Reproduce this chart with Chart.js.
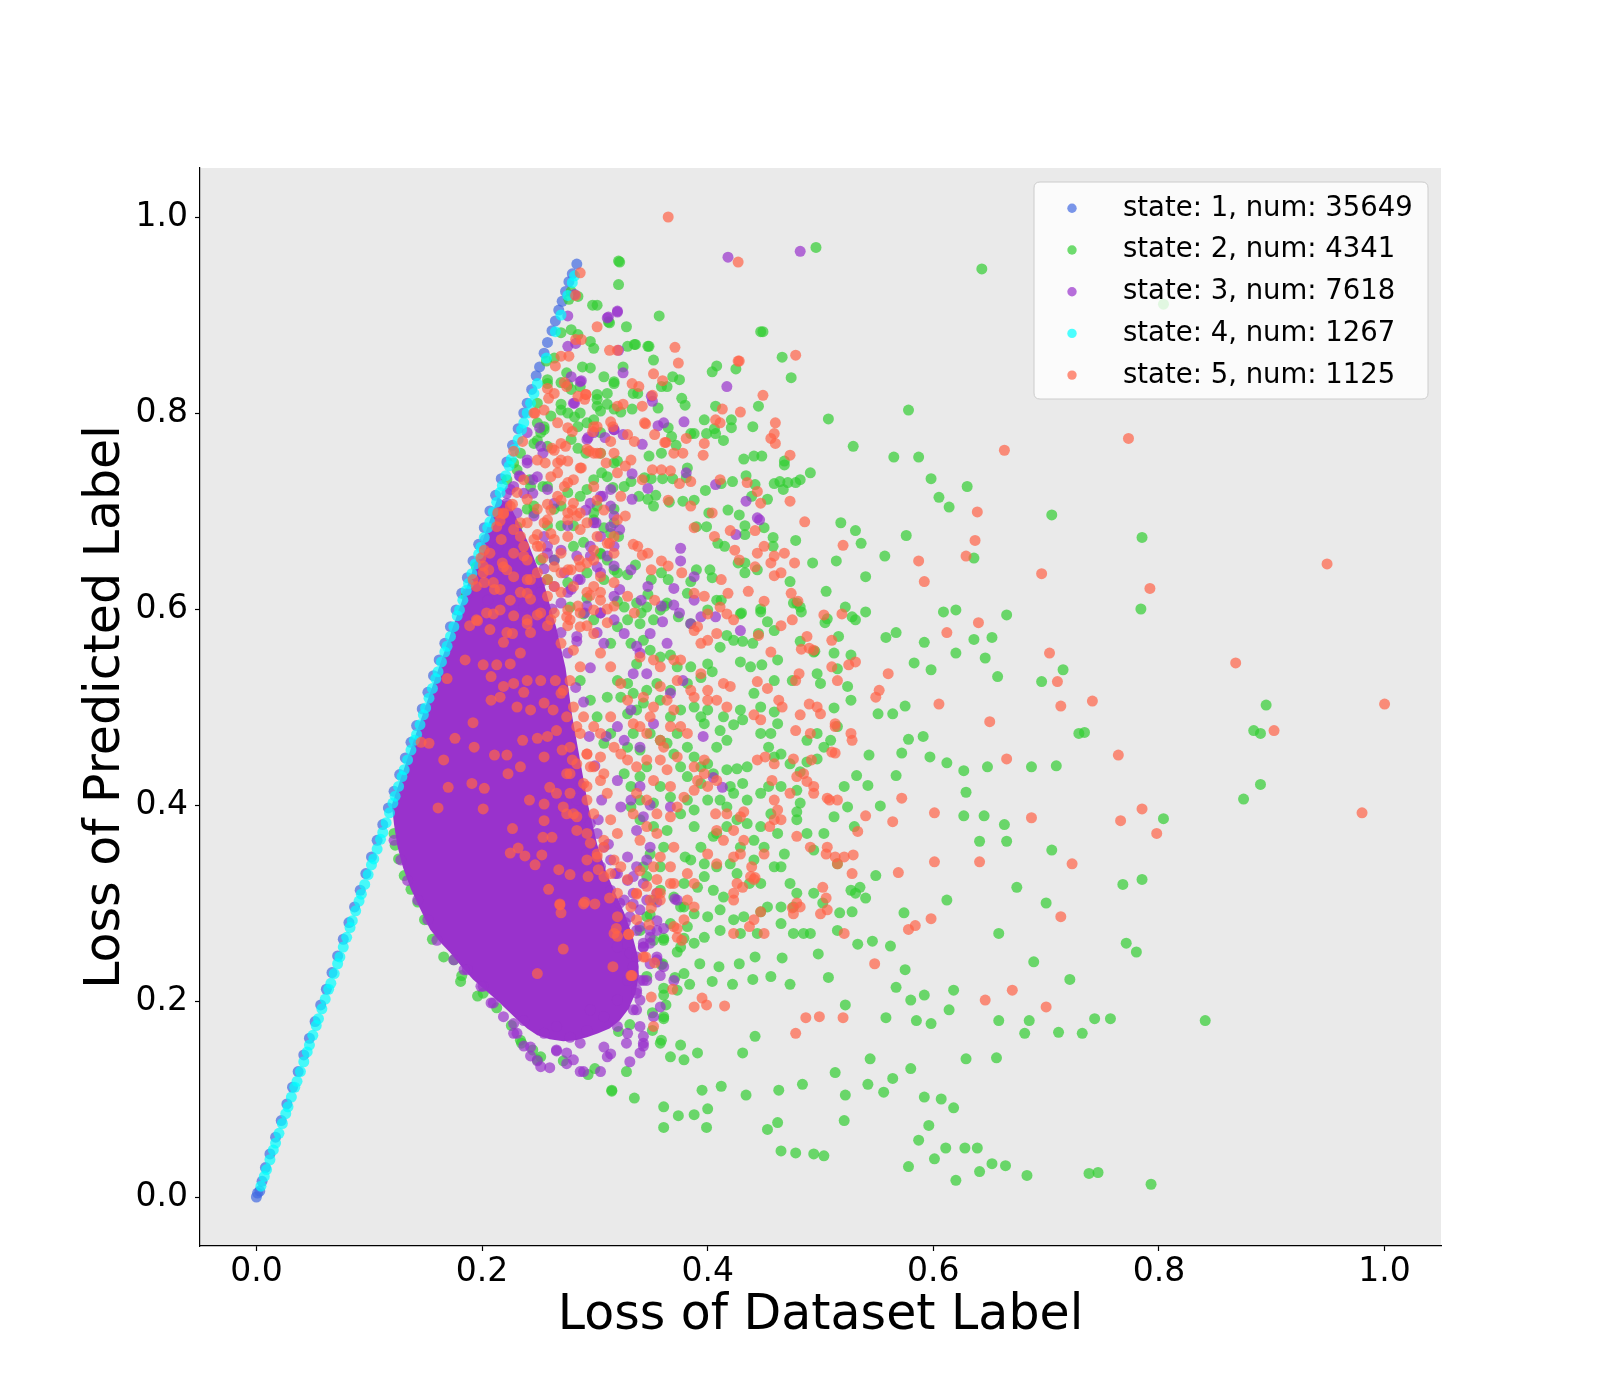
<!DOCTYPE html>
<html><head><meta charset="utf-8">
<script src="https://cdn.jsdelivr.net/npm/chart.js@4.4.1/dist/chart.umd.min.js"></script>
<style>html,body{margin:0;padding:0;background:#fff}canvas{display:block}</style>
</head><body>
<canvas id="c" width="1600" height="1400"></canvas>
<script>
const xTicks=[0,0.2,0.4,0.6,0.8,1.0];
const yTicks=[0,0.2,0.4,0.6,0.8,1.0];
const seriesLabels=['state: 1, num: 35649','state: 2, num: 4341','state: 3, num: 7618','state: 4, num: 1267','state: 5, num: 1125'];

const state1=[[0,0],[.001,.004],[.003,.006],[.005,.016],[.008,.030],[.012,.044],[.017,.061],[.022,.078],[.027,.095],[.032,.112],[.037,.128],[.042,.145],[.047,.162],[.052,.179],[.057,.196],[.062,.212],[.067,.229],[.072,.246],[.077,.263],[.082,.280],[.087,.296],[.092,.313],[.097,.330],[.102,.347],[.107,.364],[.112,.380],[.117,.397],[.122,.414],[.127,.431],[.132,.448],[.137,.464],[.142,.481],[.147,.498],[.152,.515],[.157,.532],[.162,.548],[.167,.565],[.172,.582],[.177,.599],[.182,.616],[.187,.632],[.192,.649],[.197,.666],[.202,.683],[.207,.700],[.212,.716],[.217,.733],[.222,.750],[.227,.767],[.232,.784],[.237,.800],[.240,.810],[.244,.824],[.248,.838],[.251,.847],[.255,.861],[.258,.872],[.262,.884],[.265,.894],[.268,.905],[.271,.914],[.274,.924],[.277,.934],[.280,.942],[.284,.952]];

const state4=[[.004,.011],[.007,.021],[.009,.028],[.012,.038],[.015,.048],[.017,.055],[.020,.065],[.023,.075],[.026,.085],[.028,.092],[.031,.102],[.034,.112],[.036,.118],[.039,.128],[.042,.138],[.045,.148],[.047,.155],[.050,.165],[.053,.175],[.055,.182],[.058,.192],[.061,.202],[.064,.212],[.066,.218],[.069,.228],[.072,.238],[.074,.245],[.077,.255],[.080,.265],[.083,.275],[.085,.282],[.088,.292],[.091,.302],[.093,.309],[.096,.319],[.099,.329],[.102,.339],[.104,.345],[.107,.355],[.110,.365],[.112,.372],[.115,.382],[.118,.392],[.121,.402],[.123,.409],[.126,.419],[.129,.429],[.131,.436],[.134,.446],[.137,.456],[.140,.466],[.142,.472],[.145,.482],[.148,.492],[.150,.499],[.153,.509],[.156,.519],[.159,.529],[.161,.536],[.164,.546],[.167,.556],[.169,.562],[.172,.572],[.175,.582],[.178,.593],[.180,.599],[.183,.609],[.186,.619],[.188,.626],[.191,.636],[.194,.646],[.197,.656],[.199,.663],[.202,.673],[.205,.683],[.207,.689],[.210,.699],[.213,.709],[.216,.719],[.218,.726],[.221,.736],[.224,.746],[.226,.753],[.229,.763],[.232,.773],[.235,.783],[.237,.790],[.240,.800],[.243,.810],[.246,.820],[.249,.830],[.257,.856],[.265,.883],[.270,.900],[.276,.920],[.280,.933],[.282,.940]];

const state2=[[.496,.969],[.643,.947],[.321,.955],[.804,.911],[.447,.883],[.578,.803],[.529,.766],[.507,.794],[.587,.755],[.565,.755],[.598,.733],[.605,.714],[.630,.725],[.614,.704],[.636,.652],[.576,.675],[.557,.654],[.705,.696],[.785,.673],[.784,.600],[.665,.594],[.620,.599],[.646,.550],[.652,.571],[.657,.531],[.715,.538],[.729,.473],[.709,.440],[.696,.526],[.687,.439],[.895,.502],[.890,.473],[.884,.476],[.890,.421],[.875,.406],[.804,.386],[.785,.324],[.768,.319],[.771,.259],[.780,.250],[.743,.182],[.757,.182],[.841,.180],[.793,.013],[.738,.024],[.746,.025],[.683,.022],[.664,.032],[.652,.034],[.641,.026],[.620,.017],[.628,.050],[.639,.050],[.611,.050],[.601,.039],[.587,.058],[.578,.031],[.618,.091],[.607,.100],[.592,.102],[.596,.073],[.580,.131],[.556,.107],[.564,.121],[.542,.115],[.544,.141],[.513,.127],[.522,.104],[.521,.078],[.503,.042],[.494,.044],[.478,.045],[.465,.047],[.453,.069],[.462,.076],[.484,.115],[.463,.109],[.434,.104],[.412,.113],[.395,.109],[.399,.071],[.400,.090],[.388,.084],[.374,.083],[.361,.092],[.361,.071],[.335,.101],[.315,.108],[.367,.143],[.391,.147],[.431,.147],[.442,.164],[.711,.168],[.658,.180],[.685,.180],[.656,.142],[.629,.141],[.614,.191],[.618,.211],[.598,.177],[.585,.180],[.558,.183],[.674,.316],[.700,.300],[.705,.354],[.721,.222],[.658,.269],[.681,.167],[.641,.363],[.665,.363],[.663,.380],[.645,.389],[.627,.389],[.629,.413],[.627,.435],[.648,.439],[.612,.443],[.597,.449],[.591,.470],[.578,.467],[.572,.453],[.567,.430],[.553,.399],[.542,.420],[.532,.430],[.543,.451],[.551,.493],[.564,.493],[.575,.501],[.558,.571],[.567,.576],[.592,.566],[.598,.538],[.583,.545],[.609,.597],[.620,.555],[.636,.569],[.540,.597],[.540,.633],[.536,.667],[.531,.680],[.518,.688],[.514,.649],[.505,.618],[.504,.586],[.495,.557],[.483,.597],[.473,.628],[.493,.647],[.478,.670],[.467,.722],[.482,.732],[.491,.739],[.442,.727],[.433,.685],[.458,.673],[.535,.316],[.549,.328],[.540,.305],[.517,.290],[.533,.258],[.546,.261],[.562,.256],[.574,.290],[.575,.232],[.580,.201],[.567,.214],[.592,.206],[.522,.196],[.507,.224],[.498,.248],[.485,.269],[.466,.244],[.473,.217],[.456,.225],[.442,.245],[.440,.222],[.428,.238],[.422,.217],[.410,.235],[.404,.220],[.393,.238],[.384,.217],[.371,.224],[.361,.206],[.351,.188],[.351,.170],[.734,.474],[.689,.240],[.612,.303],[.732,.167],
[.321,.931],[.298,.910],[.302,.910],[.357,.899],[.328,.888],[.449,.883],[.313,.892],[.285,.880],[.296,.873],[.299,.866],[.335,.870],[.329,.868],[.347,.868],[.466,.857],[.474,.836],[.352,.854],[.289,.847],[.296,.846],[.308,.837],[.317,.832],[.325,.847],[.375,.834],[.369,.837],[.408,.848],[.404,.842],[.425,.845],[.359,.827],[.364,.827],[.338,.820],[.334,.820],[.377,.815],[.380,.808],[.407,.807],[.421,.793],[.421,.785],[.445,.807],[.440,.786],[.397,.793],[.388,.779],[.385,.779],[.399,.779],[.407,.779],[.406,.784],[.414,.772],[.432,.753],[.441,.756],[.448,.756],[.468,.751],[.468,.747],[.459,.728],[.471,.729],[.478,.729],[.434,.736],[.422,.730],[.412,.728],[.398,.721],[.382,.744],[.381,.734],[.369,.733],[.360,.733],[.350,.733],[.354,.716],[.352,.705],[.332,.730],[.344,.734],[.348,.756],[.359,.759],[.368,.776],[.372,.767],[.365,.785],[.356,.805],[.333,.804],[.323,.801],[.311,.820],[.302,.814],[.305,.802],[.299,.793],[.285,.786],[.282,.796],[.285,.764],[.292,.759],[.305,.759],[.320,.751],[.306,.739],[.316,.724],[.326,.725],[.339,.715],[.347,.712],[.366,.709],[.378,.710],[.388,.711],[.401,.698],[.390,.684],[.399,.684],[.418,.701],[.428,.696],[.439,.715],[.453,.712],[.464,.730],[.450,.683],[.458,.664],[.433,.676],[.409,.667],[.415,.664],[.427,.647],[.433,.647],[.444,.640],[.433,.637],[.402,.640],[.404,.632],[.390,.640],[.385,.628],[.382,.616],[.365,.630],[.359,.637],[.350,.630],[.347,.615],[.336,.645],[.329,.635],[.321,.674],[.314,.677],[.308,.683],[.299,.698],[.305,.656],[.320,.637],[.308,.630],[.293,.611],[.320,.608],[.341,.596],[.362,.603],[.412,.609],[.430,.596],[.447,.600],[.479,.606],[.400,.599],[.261,.797],[.255,.786],[.270,.803],[.249,.772],[.258,.766],[.279,.773],[.242,.732],[.254,.725],[.246,.705],[.231,.684],[.224,.667],[.231,.640],[.217,.637],[.279,.824],[.270,.831],[.275,.841],[.264,.856],[.257,.853],[.258,.834],[.270,.882],[.279,.885],[.277,.916],[.285,.919],[.279,.924],[.322,.954],[.312,.893],[.348,.868],[.336,.870],
[.122,.371],[.123,.359],[.126,.345],[.131,.328],[.137,.314],[.143,.301],[.149,.283],[.156,.263],[.166,.245],[.181,.220],[.196,.205],[.213,.193],[.226,.175],[.235,.157],[.245,.150],[.252,.143],[.358,.157],[.361,.182],[.361,.213],[.360,.238],
[.175,.242],[.182,.226],[.201,.208],[.234,.160],[.249,.140],[.272,.139],[.294,.125],[.300,.131],[.315,.109],[.328,.128],[.321,.169],[.331,.176],[.359,.160],[.376,.155],[.379,.140],[.361,.184],[.363,.196],[.346,.225],[.373,.211],[.379,.228],[.359,.237],[.361,.264],[.373,.250],[.379,.264],[.379,.296],[.349,.288],
[.258,.830],[.276,.829],[.287,.827],[.317,.830],[.302,.819],[.311,.809],[.270,.809],[.249,.810],[.249,.790],[.255,.783],[.246,.769],[.252,.780],[.287,.800],[.276,.800],[.293,.790],[.302,.807],[.317,.804],[.305,.780],[.317,.749],[.311,.735],[.299,.732],[.293,.722],[.276,.719],[.270,.705],[.264,.702],[.246,.698],[.240,.702],[.258,.685],[.270,.685],[.281,.685],[.290,.668],[.311,.650],[.305,.657],[.317,.640],[.293,.637],[.276,.627],[.258,.630],[.246,.623],[.225,.603],[.234,.599],[.207,.674],[.228,.749],[.234,.759],[.231,.742],[.222,.732],[.243,.725],[.258,.725],[.287,.715],[.302,.705],[.317,.702],[.317,.688],[.299,.691],[.281,.664],[.204,.650],[.195,.643],[.183,.596],[.186,.613],[.198,.613],[.264,.650],[.252,.650],
[.374,.592],[.385,.585],[.408,.609],[.429,.595],[.447,.597],[.453,.587],[.445,.575],[.459,.578],[.476,.606],[.482,.602],[.506,.590],[.522,.602],[.528,.592],[.531,.589],[.482,.567],[.494,.556],[.516,.572],[.512,.555],[.527,.553],[.431,.567],[.440,.565],[.423,.568],[.417,.573],[.411,.561],[.400,.544],[.404,.536],[.429,.546],[.438,.541],[.448,.543],[.462,.548],[.459,.527],[.475,.527],[.497,.534],[.500,.524],[.515,.539],[.524,.521],[.527,.507],[.512,.499],[.515,.480],[.509,.466],[.497,.473],[.488,.466],[.503,.459],[.497,.447],[.488,.444],[.482,.434],[.473,.442],[.465,.452],[.459,.449],[.454,.459],[.447,.473],[.456,.473],[.462,.483],[.459,.495],[.447,.500],[.441,.514],[.429,.497],[.431,.487],[.423,.482],[.414,.490],[.400,.497],[.394,.490],[.397,.483],[.411,.476],[.417,.466],[.408,.459],[.400,.442],[.405,.432],[.417,.436],[.426,.437],[.435,.439],[.431,.422],[.420,.419],[.411,.405],[.417,.398],[.423,.412],[.435,.405],[.447,.412],[.454,.419],[.465,.419],[.479,.415],[.479,.393],[.479,.385],[.482,.402],[.488,.371],[.494,.354],[.503,.371],[.512,.388],[.521,.419],[.524,.398],[.530,.378],[.515,.340],[.527,.313],[.531,.310],[.528,.291],[.515,.272],[.502,.300],[.494,.310],[.473,.320],[.479,.310],[.465,.337],[.459,.337],[.468,.350],[.447,.320],[.437,.320],[.441,.344],[.426,.330],[.420,.340],[.429,.357],[.417,.378],[.408,.371],[.405,.368],[.394,.357],[.385,.344],[.380,.347],[.397,.340],[.408,.337],[.397,.327],[.405,.313],[.414,.306],[.411,.293],[.423,.283],[.432,.286],[.447,.291],[.453,.296],[.465,.296],[.476,.296],[.465,.279],[.476,.269],[.491,.269],[.444,.269],[.429,.269],[.411,.272],[.400,.286],[.388,.289],[.391,.316],[.379,.320],[.376,.296],[.382,.276],[.361,.262],[.367,.279],[.358,.313],[.370,.306],[.388,.378],[.376,.391],[.382,.405],[.388,.395],[.367,.408],[.400,.405],[.394,.422],[.382,.429],[.376,.439],[.394,.439],[.388,.449],[.370,.452],[.382,.459],[.373,.473],[.364,.463],[.358,.466],[.349,.473],[.367,.490],[.376,.497],[.388,.500],[.358,.507],[.343,.504],[.337,.497],[.346,.517],[.355,.524],[.367,.517],[.382,.524],[.394,.530],[.385,.541],[.373,.541],[.367,.553],[.358,.551],[.349,.558],[.343,.568],[.337,.544],[.332,.565],[.329,.524],[.320,.527],[.323,.510],[.334,.514],[.329,.493],[.334,.473],[.340,.456],[.329,.459],[.346,.439],[.340,.429],[.358,.419],[.352,.402],[.340,.405],[.332,.398],[.340,.385],[.352,.378],[.364,.374],[.361,.357],[.349,.350],[.343,.337],[.346,.327],[.358,.337],[.352,.303],[.346,.286],[.340,.272],[.352,.262],[.388,.259],[.397,.265],[.376,.255],[.332,.419],[.326,.432],[.308,.463],[.314,.473],[.302,.490],[.296,.507],[.287,.527],[.311,.510],[.314,.565],[.320,.582],[.329,.589],[.340,.585],[.352,.589],[.358,.599],[.346,.602],[.326,.602],[.299,.589],[.290,.595],[.278,.602],[.337,.606],[.364,.606],[.447,.378],[.456,.391],[.462,.371],[.450,.357],[.441,.364],[.435,.381],[.426,.385]];

const state3=[[.418,.959],[.482,.965],[.444,.693],[.312,.898],[.320,.904],
[.320,.903],[.311,.897],[.325,.841],[.288,.833],[.321,.864],[.417,.827],[.282,.810],[.350,.817],[.351,.812],[.379,.791],[.361,.790],[.356,.787],[.325,.778],[.317,.783],[.309,.775],[.294,.775],[.342,.768],[.333,.738],[.347,.723],[.381,.739],[.407,.727],[.434,.710],[.446,.691],[.425,.676],[.376,.662],[.376,.649],[.388,.633],[.370,.621],[.370,.604],[.307,.715],[.314,.684],[.322,.681],[.333,.712],[.301,.688],[.292,.701],[.296,.654],[.279,.837],[.276,.868],[.283,.871],[.282,.921],[.276,.899],[.251,.785],[.254,.759],[.240,.752],[.245,.732],[.237,.718],[.245,.718],[.233,.736],[.225,.722],[.222,.705],[.226,.691],[.214,.664],[.205,.660],[.203,.671],[.212,.644],[.194,.623],[.187,.616],[.205,.609],[.220,.602],[.231,.609],[.240,.630],[.252,.627],[.255,.641],[.264,.650],[.270,.660],[.258,.664],[.273,.637],[.279,.620],[.285,.630],[.270,.606],[.311,.654],[.305,.637],[.291,.596],[.251,.600],[.305,.596],[.341,.609],[.359,.603],[.375,.596],[.388,.609],[.347,.623],[.322,.620],[.332,.640],[.317,.644],
[.287,.832],[.281,.810],[.299,.780],[.293,.773],[.317,.783],[.314,.722],[.305,.715],[.296,.708],[.314,.705],[.299,.688],[.317,.695],[.252,.766],[.240,.780],[.240,.749],[.234,.735],[.228,.725],[.222,.718],[.249,.735],[.258,.722],[.264,.708],[.246,.695],[.231,.698],[.222,.708],[.216,.702],[.255,.674],[.258,.657],[.276,.685],[.284,.654],[.296,.664],[.305,.674],[.317,.664],[.302,.643],[.287,.630],[.276,.617],[.264,.623],[.252,.617],[.237,.603],[.246,.593],[.293,.603],[.305,.596],[.317,.613],[.317,.589],[.270,.576],[.284,.572],[.302,.576],
[.283,.520],[.290,.505],[.276,.555],[.262,.600],[.295,.470],[.300,.440],[.288,.420],[.306,.405],[.296,.540],[.284,.567],[.310,.470],[.303,.385],[.312,.360],[.318,.330],[.322,.300],[.327,.280],
[.429,.578],[.407,.592],[.394,.592],[.385,.585],[.378,.527],[.367,.514],[.396,.470],[.405,.428],[.413,.418],[.349,.400],[.367,.398],[.371,.304],[.355,.272],[.340,.555],[.337,.562],[.364,.565],[.360,.587],[.349,.575],[.308,.565],[.326,.575],[.334,.534],[.346,.534],[.352,.483],[.332,.497],[.320,.480],[.326,.466],[.340,.459],[.320,.425],[.340,.419],[.332,.405],[.323,.398],[.343,.388],[.337,.374],[.349,.357],[.346,.344],[.337,.337],[.329,.347],[.334,.327],[.343,.320],[.355,.310],[.346,.303],[.340,.293],[.355,.282],[.349,.265],[.343,.255],[.329,.258],[.337,.272],
[.231,.167],[.243,.153],[.266,.150],[.287,.157],[.308,.153],[.314,.146],[.329,.167],[.343,.157],[.340,.174],[.334,.191],[.352,.184],[.358,.194],[.361,.235],[.355,.245],[.343,.255],[.349,.272],[.331,.249],[.334,.235],[.329,.221],[.320,.201],[.308,.184],[.293,.170],[.278,.163],[.255,.167],[.228,.177],[.219,.184],[.208,.198],[.199,.215],[.187,.232],[.175,.242],[.160,.262],[.152,.283],[.143,.303],[.134,.323],[.128,.344],[.122,.364],[.237,.180],[.266,.174],[.296,.191],[.320,.174],[.337,.208],[.343,.221],[.326,.303],[.334,.310],[.329,.323],[.320,.330],[.314,.344],[.308,.357],[.302,.371],[.296,.381],[.290,.391],[.284,.405],[.314,.313],[.305,.337],[.293,.351],[.249,.139],[.290,.128],[.260,.132],[.275,.136],
[.184,.232],[.201,.215],[.210,.198],[.228,.167],[.237,.154],[.243,.144],[.252,.133],[.266,.149],[.275,.147],[.281,.140],[.287,.128],[.305,.128],[.311,.143],[.331,.138],[.340,.147],[.343,.164],[.343,.154],[.328,.157],[.337,.191],[.340,.201],[.337,.211],[.346,.221],[.370,.221],[.358,.226],[.340,.221],[.349,.238],[.355,.242],[.337,.245],[.343,.259],[.349,.259],[.361,.274],[.373,.303],[.355,.301],[.334,.299],[.340,.276],[.331,.286],[.320,.255]];

const state3Core=[[.120,.400],[.122,.380],[.125,.358],[.130,.336],[.137,.314],[.146,.292],[.154,.273],[.163,.260],[.172,.249],[.182,.235],[.192,.222],[.203,.211],[.213,.201],[.222,.191],[.231,.181],[.240,.172],[.249,.165],[.260,.161],[.272,.159],[.283,.160],[.293,.163],[.303,.167],[.313,.172],[.322,.180],[.330,.192],[.336,.208],[.339,.226],[.338,.246],[.333,.268],[.326,.290],[.318,.310],[.310,.332],[.302,.360],[.294,.400],[.287,.445],[.280,.490],[.274,.540],[.266,.580],[.255,.625],[.240,.670],[.225,.705],[.214,.714],[.201,.671],[.190,.634],[.180,.601],[.165,.551],[.150,.501],[.135,.451]];

const state5=[[.365,1.0],[.427,.954],[1.0,.503],[.949,.646],[.980,.392],[.868,.545],[.902,.476],[.792,.621],[.773,.774],[.764,.451],[.766,.384],[.785,.396],[.798,.371],[.741,.506],[.703,.555],[.696,.636],[.710,.526],[.713,.501],[.713,.286],[.723,.340],[.700,.194],[.687,.387],[.663,.762],[.665,.447],[.670,.211],[.650,.485],[.646,.201],[.639,.699],[.637,.670],[.640,.586],[.641,.342],[.629,.654],[.612,.576],[.605,.503],[.601,.392],[.601,.342],[.592,.628],[.587,.649],[.598,.284],[.584,.277],[.578,.273],[.564,.383],[.569,.331],[.572,.407],[.560,.534],[.552,.517],[.549,.510],[.548,.238],[.540,.389],[.533,.373],[.529,.349],[.520,.665],[.513,.480],[.510,.454],[.520,.183],[.505,.305],[.506,.407],[.499,.184],[.492,.446],[.486,.689],[.478,.859],[.483,.559],[.460,.790],[.456,.774],[.457,.425],[.475,.295],[.478,.167],[.487,.183],[.447,.708],[.442,.326],[.437,.276],[.427,.853],[.420,.680],[.411,.790],[.415,.195],[.399,.196],[.395,.203],[.388,.194],[.287,.943],
[.302,.888],[.313,.864],[.320,.864],[.371,.867],[.374,.851],[.428,.853],[.449,.818],[.413,.804],[.429,.801],[.407,.793],[.381,.774],[.363,.770],[.345,.789],[.352,.840],[.360,.833],[.333,.830],[.339,.827],[.351,.818],[.342,.807],[.325,.809],[.320,.807],[.292,.819],[.291,.814],[.285,.817],[.275,.827],[.273,.831],[.277,.858],[.283,.875],[.270,.858],[.265,.848],[.259,.815],[.255,.803],[.247,.800],[.283,.920],[.288,.875],[.302,.786],[.298,.781],[.316,.786],[.335,.771],[.329,.778],[.344,.790],[.353,.778],[.362,.770],[.370,.759],[.378,.759],[.396,.757],[.397,.769],[.459,.779],[.473,.757],[.460,.769],[.435,.729],[.444,.720],[.473,.710],[.442,.680],[.411,.732],[.404,.698],[.385,.730],[.367,.741],[.359,.742],[.351,.742],[.342,.732],[.332,.752],[.327,.746],[.320,.739],[.317,.759],[.310,.749],[.302,.759],[.295,.761],[.288,.744],[.276,.751],[.270,.752],[.262,.764],[.256,.749],[.267,.739],[.273,.725],[.270,.711],[.280,.701],[.276,.691],[.261,.701],[.258,.691],[.261,.677],[.249,.676],[.249,.664],[.254,.652],[.240,.650],[.237,.664],[.234,.688],[.228,.681],[.225,.705],[.219,.698],[.213,.684],[.214,.698],[.217,.671],[.218,.647],[.222,.640],[.206,.640],[.201,.644],[.192,.630],[.202,.660],[.202,.627],[.211,.620],[.225,.609],[.243,.630],[.240,.616],[.258,.630],[.270,.637],[.264,.623],[.279,.640],[.299,.623],[.305,.609],[.296,.614],[.285,.603],[.311,.600],[.329,.613],[.335,.596],[.353,.609],[.350,.640],[.359,.649],[.365,.644],[.377,.637],[.388,.616],[.397,.613],[.347,.657],[.342,.655],[.338,.664],[.334,.666],[.320,.691],[.327,.695],[.308,.701],[.302,.711],[.299,.725],[.323,.715],[.313,.667],[.299,.660],[.293,.647],[.286,.650],[.365,.711],[.375,.728],[.385,.705],[.388,.683],[.406,.674],[.424,.660],[.428,.650],[.442,.643],[.444,.657],[.450,.664],[.456,.647],[.459,.654],[.468,.657],[.477,.647],[.465,.637],[.459,.634],[.436,.618],[.418,.616],[.412,.630],[.474,.616],[.480,.608],[.450,.608],
[.292,.819],[.267,.790],[.276,.785],[.280,.781],[.299,.786],[.314,.791],[.314,.771],[.270,.769],[.274,.766],[.264,.762],[.287,.744],[.281,.732],[.276,.729],[.267,.749],[.261,.735],[.299,.759],[.305,.759],[.293,.763],[.249,.752],[.237,.732],[.236,.771],[.228,.761],[.246,.800],[.258,.825],[.264,.820],[.281,.708],[.276,.698],[.284,.695],[.287,.698],[.267,.715],[.258,.707],[.249,.702],[.240,.712],[.231,.719],[.227,.707],[.219,.697],[.216,.690],[.240,.688],[.255,.688],[.246,.671],[.234,.674],[.228,.657],[.237,.654],[.252,.664],[.264,.671],[.276,.674],[.270,.657],[.287,.681],[.293,.688],[.302,.674],[.311,.667],[.317,.674],[.317,.657],[.299,.650],[.287,.643],[.276,.640],[.264,.643],[.249,.637],[.240,.630],[.228,.633],[.219,.643],[.207,.657],[.199,.652],[.201,.637],[.195,.623],[.210,.627],[.216,.620],[.234,.617],[.243,.610],[.258,.613],[.270,.617],[.281,.623],[.293,.617],[.305,.617],[.317,.627],[.305,.633],[.252,.596],[.264,.596],[.276,.599],[.287,.596],[.299,.599],[.240,.589],[.228,.593],[.216,.599],[.204,.596],[.195,.589],[.189,.583],[.207,.579],[.222,.576],[.243,.576],[.258,.583],[.276,.583],[.293,.583],[.311,.586],[.317,.603],
[.503,.594],[.519,.595],[.475,.589],[.465,.583],[.445,.573],[.456,.556],[.488,.572],[.490,.560],[.494,.558],[.510,.568],[.510,.541],[.525,.543],[.531,.546],[.515,.527],[.481,.534],[.478,.527],[.444,.526],[.453,.519],[.463,.507],[.466,.500],[.490,.503],[.497,.500],[.500,.493],[.482,.492],[.441,.492],[.447,.487],[.478,.476],[.491,.473],[.513,.483],[.527,.473],[.528,.466],[.513,.453],[.476,.447],[.451,.449],[.444,.446],[.459,.442],[.479,.429],[.485,.432],[.488,.424],[.494,.419],[.494,.412],[.508,.405],[.515,.405],[.473,.412],[.459,.405],[.462,.395],[.459,.385],[.465,.385],[.455,.378],[.432,.393],[.429,.388],[.423,.374],[.414,.364],[.408,.374],[.407,.391],[.417,.391],[.432,.364],[.429,.350],[.423,.347],[.408,.340],[.400,.350],[.450,.350],[.439,.337],[.438,.327],[.426,.320],[.423,.303],[.423,.310],[.431,.316],[.447,.291],[.479,.368],[.491,.357],[.506,.357],[.505,.350],[.513,.347],[.521,.347],[.515,.340],[.528,.330],[.502,.316],[.479,.300],[.482,.296],[.500,.289],[.506,.293],[.521,.269],[.476,.289],[.441,.283],[.450,.269],[.423,.269],[.441,.324],[.400,.517],[.414,.524],[.420,.521],[.417,.500],[.408,.507],[.400,.507],[.394,.534],[.400,.568],[.411,.602],[.417,.595],[.423,.589],[.391,.582],[.394,.565],[.400,.595],[.388,.578],[.408,.575],[.376,.548],[.370,.548],[.358,.541],[.352,.548],[.340,.551],[.358,.521],[.373,.527],[.385,.517],[.388,.510],[.364,.507],[.370,.497],[.352,.500],[.343,.510],[.349,.490],[.367,.480],[.382,.473],[.376,.480],[.358,.466],[.346,.473],[.340,.480],[.334,.483],[.361,.459],[.373,.449],[.388,.439],[.397,.446],[.391,.425],[.397,.432],[.400,.419],[.408,.425],[.388,.415],[.379,.408],[.364,.436],[.358,.446],[.346,.446],[.337,.439],[.352,.425],[.367,.419],[.373,.398],[.367,.388],[.355,.391],[.346,.405],[.337,.412],[.334,.391],[.346,.378],[.340,.364],[.355,.371],[.358,.347],[.370,.357],[.367,.337],[.352,.337],[.340,.333],[.355,.324],[.367,.320],[.358,.303],[.382,.330],[.388,.320],[.382,.303],[.388,.296],[.379,.283],[.370,.276],[.349,.303],[.373,.265],[.329,.446],[.323,.452],[.317,.459],[.305,.473],[.299,.480],[.314,.490],[.329,.507],[.323,.524],[.314,.541],[.305,.555],[.299,.575],[.287,.582],[.278,.589],[.270,.565],[.281,.558],[.287,.541],[.278,.527],[.270,.514],[.281,.500],[.290,.490],[.287,.473],[.278,.459],[.293,.452],[.284,.442],[.275,.432],[.299,.439],[.305,.425],[.311,.412],[.293,.419],[.278,.412],[.272,.398],[.284,.388],[.299,.391],[.314,.385],[.320,.371],[.308,.364],[.293,.371],[.302,.350],[.317,.344],[.323,.337],[.314,.330],[.329,.324],[.337,.310],[.332,.296],[.320,.286],[.337,.283],[.290,.299],[.317,.269],
[.259,.314],[.269,.298],[.291,.301],[.300,.299],[.313,.305],[.337,.309],[.358,.310],[.370,.320],[.350,.295],[.373,.274],[.377,.262],[.348,.278],[.330,.268],[.319,.274],[.320,.266],[.316,.235],[.333,.226],[.345,.245],[.353,.239],[.369,.212],[.350,.204],
[.196,.588],[.169,.529],[.146,.464],[.153,.463],[.176,.468],[.166,.446],[.193,.459],[.192,.484],[.185,.548],[.170,.418],[.191,.422],[.202,.417],[.161,.397],[.201,.396],[.211,.451],[.223,.432],[.234,.439],[.242,.405],[.227,.376],[.232,.356],[.225,.351],[.238,.348],[.247,.339],[.253,.349],[.255,.384],[.254,.367],[.262,.367],[.268,.334],[.278,.329],[.269,.299],[.270,.290],[.294,.327],[.303,.334],[.272,.253],[.249,.228],[.330,.268],[.332,.226],[.352,.174],[.343,.245],[.210,.595],[.219,.566],[.227,.575],[.240,.585],[.249,.594],[.261,.589],[.275,.592],[.234,.555],[.225,.544],[.213,.543],[.201,.543],[.208,.531],[.219,.521],[.228,.524],[.240,.527],[.252,.527],[.237,.515],[.216,.510],[.208,.507],[.231,.500],[.243,.497],[.255,.504],[.265,.527],[.272,.517],[.263,.497],[.275,.490],[.284,.480],[.266,.476],[.258,.470],[.249,.468],[.236,.466],[.222,.451],[.255,.449],[.271,.456],[.280,.446],[.293,.452],[.278,.432],[.290,.422],[.296,.439],[.305,.449],[.308,.432],[.293,.405],[.281,.391],[.266,.412],[.260,.418],[.255,.401],[.275,.391],[.284,.374],[.296,.361],[.308,.357],[.302,.347],[.293,.344],[.308,.327],[.320,.310],[.346,.317],[.355,.310]];

const colors=['rgba(65,105,225,0.7)','rgba(50,205,50,0.7)','rgba(153,50,204,0.7)','rgba(0,255,255,0.7)','rgba(255,99,71,0.7)'];
const FONT='"DejaVu Sans", "Liberation Sans", sans-serif';
const toXY=a=>a.map(p=>({x:p[0],y:p[1]}));

function pts(label,data,color,order){
  return {label,data:toXY(data),backgroundColor:color,borderColor:color,pointRadius:5.5,pointHoverRadius:5.5,pointBorderWidth:0,borderWidth:0,order};
}
const datasets=[
  pts(seriesLabels[0],state1,colors[0],6),
  pts(seriesLabels[1],state2,colors[1],5),
  pts(seriesLabels[2],state3,colors[2],3),
  pts(seriesLabels[3],state4,colors[3],2),
  pts(seriesLabels[4],state5,colors[4],1),
  {type:'line',label:'core',data:toXY(state3Core),showLine:true,fill:'shape',backgroundColor:'rgb(153,50,204)',borderColor:'rgb(153,50,204)',borderWidth:0,pointRadius:0,tension:0,order:4}
];
const legendIdx=[0,1,2,3,4];

const bgPlugin={id:'bg',beforeDraw(c){const {ctx,chartArea:a}=c;ctx.save();ctx.fillStyle='#fff';ctx.fillRect(0,0,c.width,c.height);ctx.fillStyle='#eaeaea';ctx.fillRect(a.left,a.top,a.right-a.left,a.bottom-a.top);ctx.restore();}};
const legendPlugin={id:'mplLegend',afterDatasetsDraw(c){
  const ctx=c.ctx;const x0=1034,y0=182,w=394,h=217,r=6;
  ctx.save();
  ctx.beginPath();
  ctx.moveTo(x0+r,y0);ctx.lineTo(x0+w-r,y0);ctx.quadraticCurveTo(x0+w,y0,x0+w,y0+r);
  ctx.lineTo(x0+w,y0+h-r);ctx.quadraticCurveTo(x0+w,y0+h,x0+w-r,y0+h);
  ctx.lineTo(x0+r,y0+h);ctx.quadraticCurveTo(x0,y0+h,x0,y0+h-r);
  ctx.lineTo(x0,y0+r);ctx.quadraticCurveTo(x0,y0,x0+r,y0);ctx.closePath();
  ctx.fillStyle='rgba(255,255,255,0.8)';ctx.fill();
  ctx.strokeStyle='#cccccc';ctx.lineWidth=1;ctx.stroke();
  ctx.font='27.5px '+FONT;ctx.textBaseline='alphabetic';ctx.textAlign='left';
  legendIdx.forEach((di,i)=>{
    const ds=c.data.datasets[di];const cy=208.3+i*41.7;
    ctx.beginPath();ctx.arc(1072,cy,4.7,0,Math.PI*2);ctx.fillStyle=ds.backgroundColor;ctx.fill();
    ctx.fillStyle='#000';ctx.fillText(ds.label,1123,cy+7.4);
  });
  ctx.restore();
}};

new Chart(document.getElementById('c'),{
  type:'scatter',
  data:{datasets},
  options:{
    responsive:false,animation:false,devicePixelRatio:1,
    layout:{padding:{left:0,top:168,right:159,bottom:0}},
    plugins:{legend:{display:false},tooltip:{enabled:false}},
    scales:{
      x:{type:'linear',min:-0.05,max:1.05,
        afterBuildTicks:s=>{s.ticks=xTicks.map(v=>({value:v}));},
        afterFit:s=>{s.height=154;},
        ticks:{color:'#000',font:{family:FONT,size:33},padding:2,maxRotation:0,autoSkip:false,callback:v=>Number(v).toFixed(1)},
        grid:{drawOnChartArea:false,drawTicks:true,tickLength:5,tickColor:'#000',tickWidth:1.2,color:'#000'},
        border:{display:true,color:'#000',width:1.2},
        title:{display:true,text:'Loss of Dataset Label',color:'#000',font:{family:FONT,size:49},padding:{top:0,bottom:54}}
      },
      y:{type:'linear',min:-0.05,max:1.05,
        afterBuildTicks:s=>{s.ticks=yTicks.map(v=>({value:v}));},
        afterFit:s=>{s.width=200;},
        ticks:{color:'#000',font:{family:FONT,size:33},padding:7,autoSkip:false,callback:v=>Number(v).toFixed(1)},
        grid:{drawOnChartArea:false,drawTicks:true,tickLength:5,tickColor:'#000',tickWidth:1.2,color:'#000'},
        border:{display:true,color:'#000',width:1.2},
        title:{display:true,text:'Loss of Predicted Label',color:'#000',font:{family:FONT,size:49},padding:{top:77,bottom:0}}
      }
    }
  },
  plugins:[bgPlugin,legendPlugin]
});
</script>
</body></html>
